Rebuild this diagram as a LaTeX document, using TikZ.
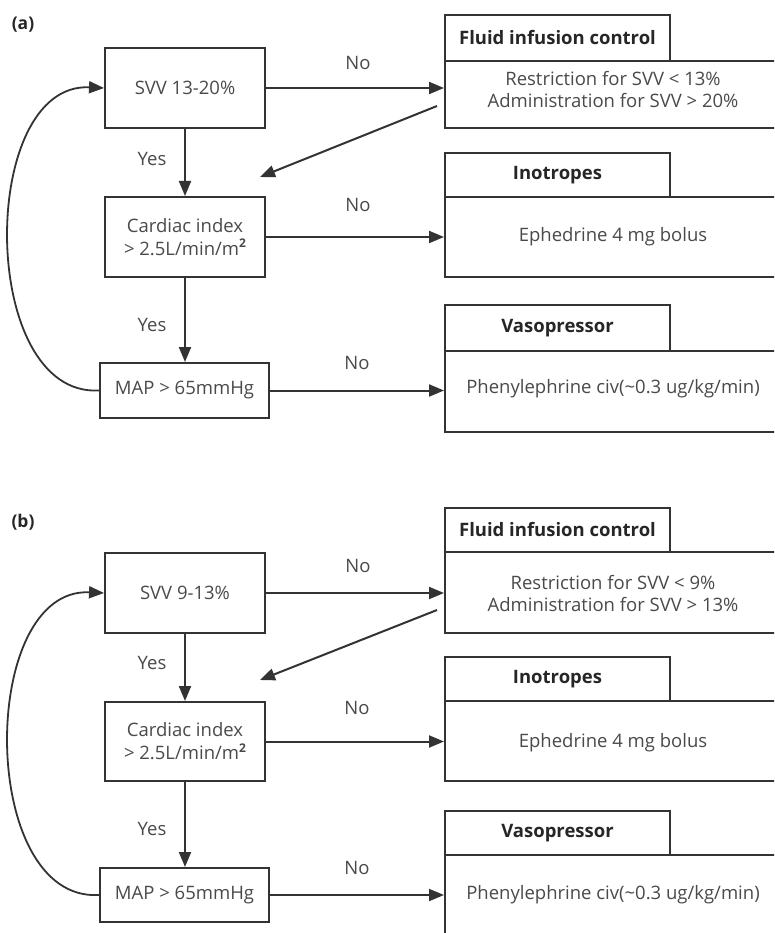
\documentclass[tikz,border=0pt]{standalone}
\usepackage{fontspec}
\setmainfont{Open Sans}
\usetikzlibrary{arrows.meta}
\definecolor{ln}{HTML}{333333}
\definecolor{tx}{HTML}{4A4A4A}
\definecolor{tt}{HTML}{262626}
\newcommand{\sqm}{m\raisebox{0.42em}{\fontsize{12}{12}\selectfont\bfseries 2}}
\begin{document}
\begin{tikzpicture}[x=1pt,y=-1pt,
  frame/.style={draw=ln,line width=2pt,inner sep=0pt,fill=white},
  dec/.style={frame,text=tx,align=center,font=\fontsize{18.5}{23}\selectfont},
  tab/.style={frame,text=tt,font=\fontsize{18.5}{23}\selectfont\bfseries,minimum width=225pt,minimum height=#1},
  body/.style={frame,minimum width=331pt,minimum height=#1},
  txt/.style={text=tx,align=center,inner sep=0pt,font=\fontsize{18.5}{22}\selectfont},
  lbl/.style={text=tx,inner sep=0pt,font=\fontsize{18.5}{23}\selectfont},
  panel/.style={text=tt,inner sep=0pt,font=\fontsize{17.5}{20}\selectfont\bfseries},
  conn/.style={draw=ln,line width=2pt,-{Triangle[length=15pt,width=12pt]}},
  loopc/.style={draw=ln,line width=1.8pt,-{Triangle[length=15pt,width=12pt]}}]
\useasboundingbox (0,0) rectangle (774,933);
\clip (0,0) rectangle (774,933);
\fill[white] (0,0) rectangle (774,933);

% ---------------- panel (a) ----------------
\node[panel] (pa) at (23,25) {(a)};
\node[dec,minimum width=160pt,minimum height=80pt] (svvA) at (185,88) {SVV 13-20\%};
\node[dec,minimum width=160pt,minimum height=80pt] (cardA) at (185,237) {Cardiac index\\> 2.5L/min/\sqm};
\node[dec,minimum width=169pt,minimum height=55pt] (mapA) at (184.5,390.5) {MAP > 65mmHg};

\node[body=67pt] (fluidA) at (610.5,94.5) {};
\node[tab=46pt] (fluidTabA) at (557.5,38) {Fluid infusion control};
\node[txt] (fluidTxtA) at (613,90) {Restriction for SVV < 13\%\\Administration for SVV > 20\%};

\node[body=80pt] (inoA) at (610.5,237) {};
\node[tab=44pt] (inoTabA) at (557.5,175) {Inotropes};
\node[txt] (inoTxtA) at (613,237) {Ephedrine 4 mg bolus};

\node[body=81pt] (vasoA) at (610.5,391.5) {};
\node[tab=46pt] (vasoTabA) at (557.5,328) {Vasopressor};
\node[txt] (vasoTxtA) at (613,389) {Phenylephrine civ(\textasciitilde0.3 ug/kg/min)};

\draw[conn] (svvA.east) -- (svvA.east -| fluidA.west);
\draw[conn] (cardA.east) -- (cardA.east -| inoA.west);
\draw[conn] (mapA.east) -- (mapA.east -| vasoA.west);
\draw[conn] (svvA.south) -- (cardA.north);
\draw[conn] (cardA.south) -- (cardA.south |- mapA.north);
\coordinate (dA1) at (437,106);
\coordinate (dA2) at (260,177);
\draw[conn] (dA1) -- (dA2);
\draw[loopc] (mapA.west) .. controls (-22,397) and (-22,82) .. (svvA.west);

\node[lbl] (noA1) at (358,63) {No};
\node[lbl] (yesA1) at (152,159) {Yes};
\node[lbl] (noA2) at (358,205) {No};
\node[lbl] (yesA2) at (152,325) {Yes};
\node[lbl] (noA3) at (357,363) {No};

% ---------------- panel (b) ----------------
\node[panel] (pb) at (23,522) {(b)};
\node[dec,minimum width=160pt,minimum height=80pt] (svvB) at (185,593) {SVV 9-13\%};
\node[dec,minimum width=160pt,minimum height=79pt] (cardB) at (185,741.5) {Cardiac index\\> 2.5L/min/\sqm};
\node[dec,minimum width=169pt,minimum height=54pt] (mapB) at (184.5,895) {MAP > 65mmHg};

\node[body=81pt] (fluidB) at (610.5,592.5) {};
\node[tab=44pt] (fluidTabB) at (557.5,530) {Fluid infusion control};
\node[txt] (fluidTxtB) at (613,594) {Restriction for SVV < 9\%\\Administration for SVV > 13\%};

\node[body=80pt] (inoB) at (610.5,741) {};
\node[tab=44pt] (inoTabB) at (557.5,679) {Inotropes};
\node[txt] (inoTxtB) at (613,743) {Ephedrine 4 mg bolus};

\node[body=82pt] (vasoB) at (610.5,896) {};
\node[tab=44pt] (vasoTabB) at (557.5,833) {Vasopressor};
\node[txt] (vasoTxtB) at (613,895) {Phenylephrine civ(\textasciitilde0.3 ug/kg/min)};

\draw[conn] (svvB.east) -- (svvB.east -| fluidB.west);
\draw[conn] (cardB.east) -- (cardB.east -| inoB.west);
\draw[conn] (mapB.east) -- (mapB.east -| vasoB.west);
\draw[conn] (svvB.south) -- (cardB.north);
\draw[conn] (cardB.south) -- (cardB.south |- mapB.north);
\coordinate (dB1) at (437,610);
\coordinate (dB2) at (260,680);
\draw[conn] (dB1) -- (dB2);
\draw[loopc] (mapB.west) .. controls (-22,902) and (-22,587) .. (svvB.west);

\node[lbl] (noB1) at (358,566) {No};
\node[lbl] (yesB1) at (152,663) {Yes};
\node[lbl] (noB2) at (357,708) {No};
\node[lbl] (yesB2) at (152,829) {Yes};
\node[lbl] (noB3) at (357,868) {No};
\end{tikzpicture}
\end{document}
